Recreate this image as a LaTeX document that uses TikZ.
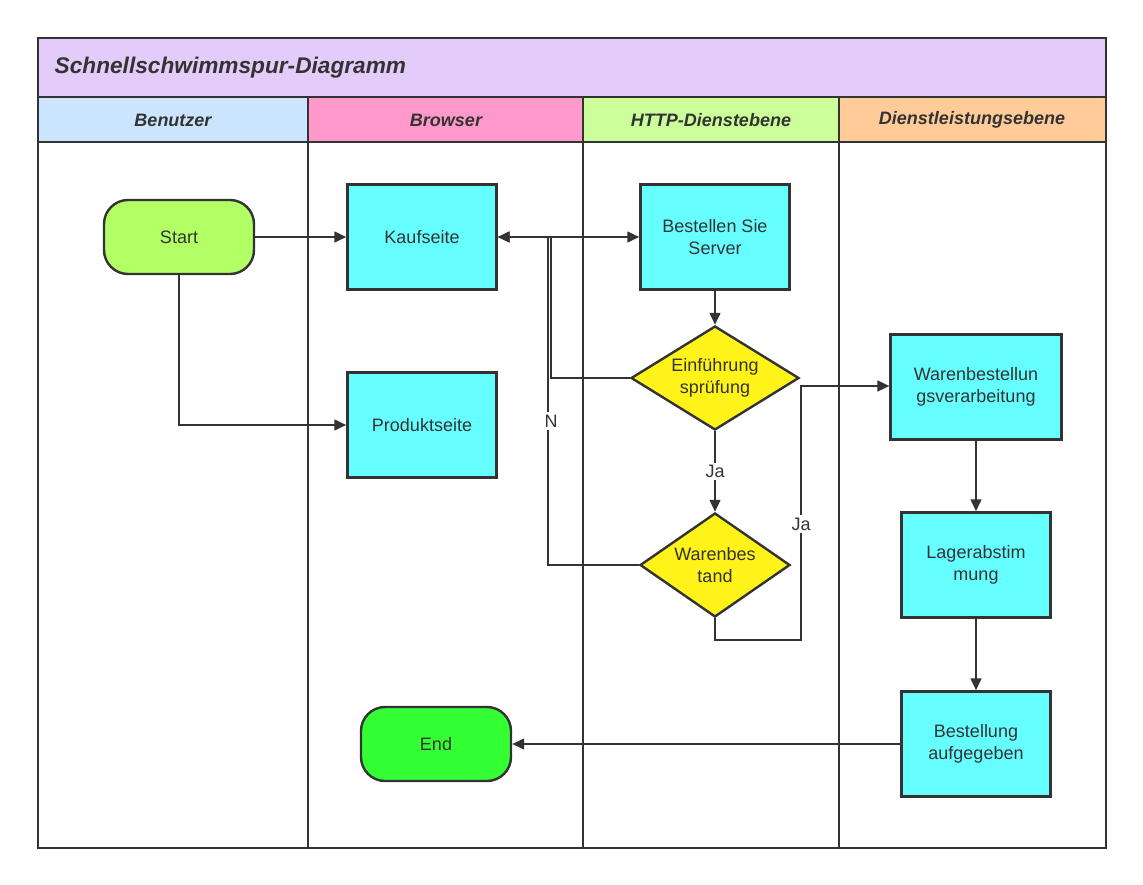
\documentclass[tikz,border=0pt]{standalone}
\usepackage{fontspec}
\setmainfont{Liberation Sans}
\usetikzlibrary{shapes.geometric,arrows.meta}
\definecolor{ln}{HTML}{333333}
\begin{document}
\begin{tikzpicture}[x=0.75pt,y=-0.75pt,
 box/.style={draw=ln,line width=1.8pt,fill=cyan!60!white,minimum width=111.75pt,minimum height=78.75pt,align=center,font=\fontsize{13.5}{16}\selectfont,text=ln},
 term/.style={draw=ln,line width=1.8pt,rounded corners=18pt,minimum width=112.5pt,minimum height=55.5pt,font=\fontsize{13.5}{16}\selectfont,text=ln},
 dia/.style={draw=ln,line width=1.8pt,fill=yellow!90!white,diamond,aspect=1.5,inner sep=0pt,align=center,font=\fontsize{13.5}{16}\selectfont,text=ln},
 hdr/.style={font=\fontsize{13.5}{15}\selectfont\bfseries\itshape,text=ln},
 lane/.style={draw=ln,line width=2pt},
 con/.style={draw=ln,line width=1.8pt,-{Triangle[length=9pt,width=8pt]}},
 lbl/.style={fill=white,font=\fontsize{13.5}{15}\selectfont,text=ln,inner sep=2pt}]
\useasboundingbox (0,0) rectangle (1143,885);
\definecolor{cy}{HTML}{66FFFF}
\tikzset{box/.append style={fill=cy}}
% lanes
\fill[fill={rgb,255:red,227;green,204;blue,250}] (38,38) rectangle (1106,97);
\fill[fill={rgb,255:red,204;green,229;blue,255}] (38,97) rectangle (308,142);
\fill[fill={rgb,255:red,255;green,153;blue,204}] (308,97) rectangle (583,142);
\fill[fill={rgb,255:red,204;green,255;blue,153}] (583,97) rectangle (839,142);
\fill[fill={rgb,255:red,255;green,204;blue,153}] (839,97) rectangle (1106,142);
\draw[lane] (38,38) rectangle (1106,848);
\draw[lane] (38,97) -- (1106,97) (38,142) -- (1106,142);
\draw[lane] (308,97) -- (308,848) (583,97) -- (583,848) (839,97) -- (839,848);
\node[anchor=west,font=\fontsize{17}{19}\selectfont\bfseries\itshape,text=ln] (title) at (50,68) {Schnellschwimmspur-Diagramm};
\node[hdr] (h1) at (173,120) {Benutzer};
\node[hdr] (h2) at (446,120) {Browser};
\node[hdr] (h3) at (711,120) {HTTP-Dienstebene};
\node[hdr] (h4) at (972,120) {Dienstleistungsebene};
% nodes
\node[term,fill={rgb,255:red,179;green,255;blue,102}] (start) at (179,237) {Start};
\node[box] (kauf) at (422,237) {Kaufseite};
\node[box] (prod) at (422,425) {Produktseite};
\node[box] (best) at (715,237) {Bestellen Sie\\Server};
\node[dia,minimum width=126pt,minimum height=78pt] (d1) at (715,378) {Einführung\\sprüfung};
\node[dia,minimum width=112.5pt,minimum height=78pt] (d2) at (715,565) {Warenbes\\tand};
\node[box,minimum width=128pt] (waren) at (976,387) {Warenbestellun\\gsverarbeitung};
\node[box] (lager) at (976,565) {Lagerabstim\\mung};
\node[box] (aufg) at (976,744) {Bestellung\\aufgegeben};
\node[term,fill={rgb,255:red,51;green,255;blue,51}] (end) at (436,744) {End};
% connectors
\draw[con] (start) -- (kauf);
\draw[con] (start.south) |- (prod.west);
\draw[con,{Triangle[length=9pt,width=8pt]}-{Triangle[length=9pt,width=8pt]}] (kauf) -- (best);
\draw[con] (best) -- (d1);
\draw[con] (d1.west) -- (551,378) -- (551,237) -- (kauf.east);
\draw[lane,line width=1.8pt] (d2.west) -- (548,565) -- (548,237);
\node[lbl] (n) at (551,421) {N};
\draw[con] (d1) -- node[lbl] (ja1) {Ja} (d2);
\draw[con] (d2.south) -- (715,640) -- (801,640) -- (801,386) -- (waren.west|-0,386);
\node[lbl] (ja2) at (801,524) {Ja};
\draw[con] (waren) -- (lager);
\draw[con] (lager) -- (aufg);
\draw[con] (aufg) -- (end);
\end{tikzpicture}
\end{document}
